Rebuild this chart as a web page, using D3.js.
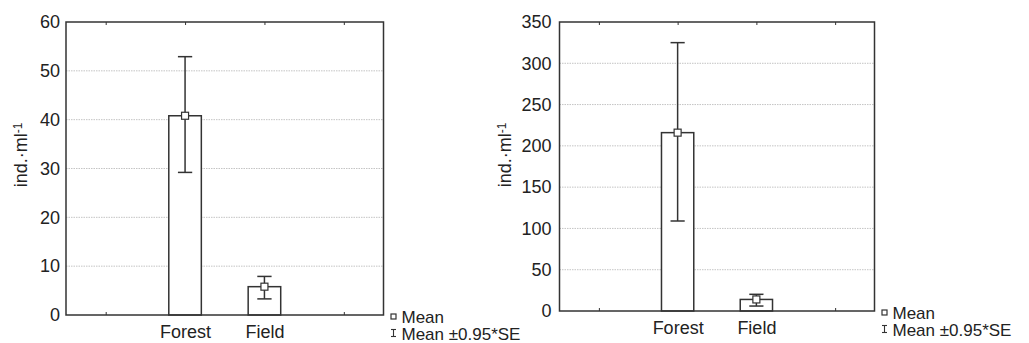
<!DOCTYPE html>
<html>
<head>
<meta charset="utf-8">
<script src="https://cdn.jsdelivr.net/npm/d3@7"></script>
<style>
  body { margin: 0; background: #fff; }
  svg text { font-family: "Liberation Sans", Arial, sans-serif; fill: #222; }
</style>
</head>
<body>
<div id="chart"></div>
<script>
// categories (the two blank slots are the empty positions Statistica puts on each side)
const slots = ["left_pad", "Forest", "Field", "right_pad"];
const groups = ["Forest", "Field"];

// left panel values
const leftMean = [40.8, 5.8];
const leftLower = [29.2, 3.3];
const leftUpper = [52.9, 7.9];
const leftTicks = [0, 10, 20, 30, 40, 50, 60];

// right panel values
const rightMean = [216, 14];
const rightLower = [109, 6];
const rightUpper = [325, 20.2];
const rightTicks = [0, 50, 100, 150, 200, 250, 300, 350];

const width = 1029, height = 343;
const fs = "18px";

const svg = d3.select("#chart")
    .append("svg")
    .attr("width", width)
    .attr("height", height);

function draw_panel(opts) {
    const g = svg.append("g");

    const x = d3.scalePoint()
        .domain(slots)
        .range([opts.x0, opts.x1])
        .padding(0.5);
    const step = x.step();

    const y = d3.scaleLinear()
        .domain([0, d3.max(opts.ticks)])
        .range([opts.y1, opts.y0]);

    // grid lines
    g.selectAll(".grid")
        .data(opts.ticks.slice(1, -1))
        .join("line")
        .attr("x1", opts.x0).attr("x2", opts.x1)
        .attr("y1", d => y(d)).attr("y2", d => y(d))
        .attr("stroke", "#c4c4c4")
        .attr("stroke-width", 1)
        .attr("stroke-dasharray", "1.5,1");

    // y axis labels
    const yAxis = d3.axisLeft(y).tickValues(opts.ticks).tickSize(0).tickPadding(opts.yPad);
    g.append("g")
        .attr("transform", `translate(${opts.x0},0)`)
        .call(yAxis)
        .call(a => a.select(".domain").remove())
        .selectAll("text")
        .style("font-size", fs)
        .attr("fill", "#222");

    // x axis: small inward ticks top and bottom, labels only for real groups
    const xAxis = d3.axisBottom(x)
        .tickSize(-3)
        .tickPadding(opts.xPad)
        .tickFormat(d => groups.includes(d) ? d : "");
    g.append("g")
        .attr("transform", `translate(0,${opts.y1})`)
        .call(xAxis)
        .call(a => a.select(".domain").remove())
        .call(a => a.selectAll("line").attr("stroke", "#333"))
        .selectAll("text")
        .style("font-size", fs)
        .attr("fill", "#222");
    g.append("g")
        .attr("transform", `translate(0,${opts.y0})`)
        .call(d3.axisTop(x).tickSize(-3).tickFormat(""))
        .call(a => a.select(".domain").remove())
        .call(a => a.selectAll("line").attr("stroke", "#333"));

    // bars
    const barW = step * 0.41;
    g.selectAll(".bar")
        .data(groups)
        .join("rect")
        .attr("x", d => x(d) - barW / 2)
        .attr("width", barW)
        .attr("y", (d, i) => y(opts.mean[i]))
        .attr("height", (d, i) => y(0) - y(opts.mean[i]))
        .attr("fill", "#fff")
        .attr("stroke", "#333")
        .attr("stroke-width", 1.5);

    // error bars
    const capW = step * 0.18;
    const err = g.selectAll(".err")
        .data(groups)
        .join("g")
        .attr("stroke", "#333")
        .attr("stroke-width", 1.5);
    err.append("line")
        .attr("x1", d => x(d)).attr("x2", d => x(d))
        .attr("y1", (d, i) => y(opts.lower[i]))
        .attr("y2", (d, i) => y(opts.upper[i]));
    err.append("line")
        .attr("x1", d => x(d) - capW / 2).attr("x2", d => x(d) + capW / 2)
        .attr("y1", (d, i) => y(opts.upper[i])).attr("y2", (d, i) => y(opts.upper[i]));
    err.append("line")
        .attr("x1", d => x(d) - capW / 2).attr("x2", d => x(d) + capW / 2)
        .attr("y1", (d, i) => y(opts.lower[i])).attr("y2", (d, i) => y(opts.lower[i]));

    // mean markers
    g.selectAll(".mean")
        .data(groups)
        .join("rect")
        .attr("x", d => x(d) - 3.5)
        .attr("y", (d, i) => y(opts.mean[i]) - 3.5)
        .attr("width", 7).attr("height", 7)
        .attr("fill", "#fff")
        .attr("stroke", "#333")
        .attr("stroke-width", 1.2);

    // frame
    g.append("rect")
        .attr("x", opts.x0).attr("y", opts.y0)
        .attr("width", opts.x1 - opts.x0)
        .attr("height", opts.y1 - opts.y0)
        .attr("fill", "none")
        .attr("stroke", "#333")
        .attr("stroke-width", 1.5);

    // y title
    const title = g.append("text")
        .attr("transform", `translate(${opts.titleX},${opts.titleY}) rotate(-90)`)
        .attr("text-anchor", "middle")
        .style("font-size", fs);
    title.append("tspan").text("ind.·ml");
    title.append("tspan").attr("dy", "-0.45em").style("font-size", "12px").text("-1");

    // legend
    const lg = g.append("g").attr("transform", `translate(${opts.x1 + 10},${opts.y1})`);
    lg.append("rect")
        .attr("x", -2.5).attr("y", opts.leg1 - 8.5)
        .attr("width", 5).attr("height", 5)
        .attr("fill", "#fff").attr("stroke", "#333").attr("stroke-width", 1.2);
    lg.append("text").attr("x", 8).attr("y", opts.leg1)
        .style("font-size", "17px").text("Mean");
    const eb = lg.append("g").attr("stroke", "#333").attr("stroke-width", 1.1);
    eb.append("line").attr("x1", 0).attr("x2", 0).attr("y1", opts.leg2 - 10).attr("y2", opts.leg2 - 3);
    eb.append("line").attr("x1", -2.5).attr("x2", 2.5).attr("y1", opts.leg2 - 10).attr("y2", opts.leg2 - 10);
    eb.append("line").attr("x1", -2.5).attr("x2", 2.5).attr("y1", opts.leg2 - 3).attr("y2", opts.leg2 - 3);
    lg.append("text").attr("x", 8).attr("y", opts.leg2)
        .style("font-size", "17px").text("Mean ±0.95*SE");
}

draw_panel({
    x0: 66, x1: 383.5, y0: 22, y1: 315,
    ticks: leftTicks, mean: leftMean, lower: leftLower, upper: leftUpper,
    yPad: 6, xPad: 10, titleX: 27, titleY: 155, leg1: 7.5, leg2: 24.5
});

draw_panel({
    x0: 559.5, x1: 874.5, y0: 22, y1: 311,
    ticks: rightTicks, mean: rightMean, lower: rightLower, upper: rightUpper,
    yPad: 8, xPad: 10, titleX: 511, titleY: 155, leg1: 7.5, leg2: 24.5
});
</script>
</body>
</html>
